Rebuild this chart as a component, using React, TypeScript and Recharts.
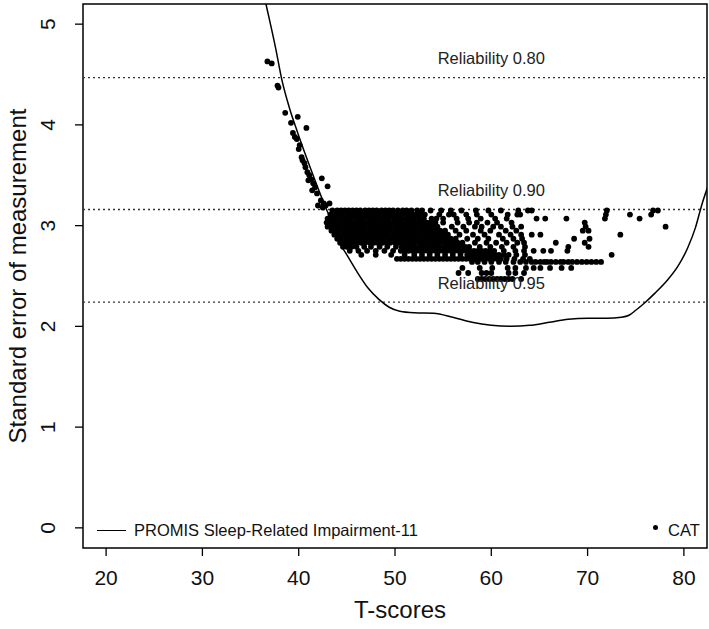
import React from "react";
import {
  ComposedChart,
  Line,
  Scatter,
  XAxis,
  YAxis,
  ReferenceLine,
  ReferenceArea,
  ReferenceDot,
} from "recharts";

// SEM curve of the fixed-length short form
const curveX = [35.9, 36.6, 37.65, 38.2, 39.0, 39.9, 41.3, 42.8, 43.6, 44.2, 45.0, 46.0, 47.2, 48.3, 49.4, 50.5, 52, 54, 56, 58, 60, 62, 64, 66, 68, 70, 72, 73.5, 74.3, 75.0, 76.0, 77.0, 78.3, 79.4, 80.4, 81.2, 81.9, 82.6];
const curveY = [5.5, 5.2, 4.74, 4.47, 4.18, 3.92, 3.55, 3.18, 3.0, 2.84, 2.71, 2.55, 2.38, 2.27, 2.19, 2.15, 2.135, 2.13, 2.09, 2.04, 2.01, 2.0, 2.01, 2.04, 2.07, 2.08, 2.08, 2.09, 2.11, 2.16, 2.24, 2.33, 2.46, 2.6, 2.78, 2.98, 3.22, 3.42];

// CAT simulees, tail along the curve
const catTailX = [36.75, 37.2, 37.8, 37.9, 38.6, 39.9, 39.2, 40.8, 39.4, 39.6, 39.8, 40.1, 40.0, 40.3, 40.4, 40.7, 40.6, 40.9, 41.1, 41.0, 41.3, 41.5, 41.7, 41.4, 42.4, 43.0, 41.9, 42.3, 42.6, 43.2, 42.0, 42.5, 42.8];
const catTailY = [4.63, 4.61, 4.39, 4.37, 4.12, 4.08, 4.02, 3.97, 3.92, 3.88, 3.86, 3.8, 3.76, 3.68, 3.65, 3.58, 3.62, 3.53, 3.5, 3.45, 3.46, 3.42, 3.38, 3.35, 3.47, 3.39, 3.32, 3.25, 3.22, 3.22, 3.2, 3.18, 3.2];

// CAT rows (stopping rule levels)
const cat315 = [43.5, 44.0, 44.4, 44.8, 45.2, 45.6, 46.0, 46.4, 46.9, 47.3, 47.7, 48.1, 48.6, 49.0, 49.4, 49.8, 50.3, 50.8, 51.2, 51.7, 52.3, 52.8, 53.7, 54.8, 55.8, 56.9, 58.4, 59.7, 61.0, 62.8, 63.8, 64.2, 72.0, 76.8, 77.3];
const cat311 = [43.3, 43.7, 44.1, 44.5, 45.0, 45.4, 45.8, 46.2, 46.7, 47.1, 47.5, 48.0, 48.4, 48.8, 49.3, 49.7, 50.2, 50.6, 51.1, 51.5, 51.9, 52.3, 52.6, 53.1, 54.6, 55.6, 56.1, 57.4, 58.5, 60.0, 61.7, 62.7, 63.0, 71.9, 74.4, 76.6];
const cat307 = [43.0, 43.4, 43.8, 44.3, 44.7, 45.1, 45.5, 46.0, 46.4, 46.8, 47.3, 47.7, 48.1, 48.6, 49.0, 49.4, 49.9, 50.3, 50.7, 51.2, 51.6, 52.0, 52.5, 53.0, 53.8, 54.3, 55.0, 56.4, 57.6, 58.9, 60.4, 61.6, 64.7, 65.6, 67.8, 71.8, 75.4];
const cat303 = [42.9, 43.3, 43.7, 44.1, 44.6, 45.0, 45.4, 45.9, 46.3, 46.7, 47.2, 47.6, 48.0, 48.5, 48.9, 49.3, 49.8, 50.2, 50.6, 51.1, 51.5, 51.9, 52.4, 52.8, 53.3, 53.7, 54.2, 55.0, 56.5, 57.7, 58.5, 59.6, 60.6, 62.1, 69.7];
const cat299 = [43.0, 43.5, 43.9, 44.3, 44.8, 45.2, 45.6, 46.1, 46.5, 46.9, 47.4, 47.8, 48.2, 48.7, 49.1, 49.5, 50.0, 50.4, 50.8, 51.3, 51.7, 52.1, 52.6, 53.0, 53.5, 53.9, 54.4, 55.9, 57.1, 58.3, 59.0, 60.2, 61.0, 62.2, 63.1, 69.8, 78.1];
const cat295 = [43.4, 43.8, 44.2, 44.7, 45.1, 45.5, 46.0, 46.4, 46.8, 47.3, 47.7, 48.1, 48.6, 49.0, 49.4, 49.9, 50.3, 50.7, 51.2, 51.6, 52.0, 52.5, 52.9, 53.3, 53.8, 54.2, 54.7, 55.2, 56.3, 57.4, 58.9, 59.9, 61.5, 62.6, 69.5, 70.1];
const cat291 = [43.7, 44.1, 44.6, 45.0, 45.4, 45.9, 46.3, 46.7, 47.2, 47.6, 48.0, 48.5, 48.9, 49.3, 49.8, 50.2, 50.6, 51.1, 51.5, 51.9, 52.4, 52.8, 53.2, 53.7, 54.1, 54.6, 55.0, 55.5, 56.7, 58.1, 59.3, 60.8, 62.0, 63.1, 64.2, 65.1, 73.4];
const cat287 = [44.0, 44.4, 44.9, 45.3, 45.7, 46.2, 46.6, 47.0, 47.5, 47.9, 48.3, 48.8, 49.2, 49.6, 50.1, 50.5, 50.9, 51.4, 51.8, 52.2, 52.7, 53.1, 53.5, 54.0, 54.4, 54.9, 55.3, 55.8, 56.3, 57.5, 58.6, 59.7, 61.2, 62.3, 63.2, 68.6, 70.2];
const cat283 = [44.3, 44.8, 45.2, 45.6, 46.1, 46.5, 46.9, 47.4, 47.8, 48.2, 48.7, 49.1, 49.5, 50.0, 50.4, 50.8, 51.3, 51.7, 52.1, 52.6, 53.0, 53.4, 53.9, 54.3, 54.7, 55.2, 55.6, 56.1, 56.5, 57.0, 58.3, 59.5, 60.5, 61.6, 62.7, 63.4, 66.7, 69.7];
const cat279 = [44.6, 45.0, 45.5, 46.0, 46.8, 47.5, 48.4, 49.2, 50.1, 50.7, 51.2, 51.6, 52.0, 52.5, 52.9, 53.3, 53.8, 54.2, 54.6, 55.1, 55.5, 55.9, 56.4, 56.8, 57.3, 57.7, 58.8, 59.9, 61.1, 62.3, 63.5, 68.0, 70.1];
const cat275 = [45.3, 46.2, 47.1, 48.0, 48.9, 49.8, 50.6, 51.0, 51.4, 51.8, 52.2, 52.6, 53.0, 53.4, 53.8, 54.2, 54.6, 55.0, 55.4, 55.8, 56.2, 56.6, 57.0, 57.4, 57.8, 58.2, 58.6, 59.0, 59.4, 59.8, 60.3, 61.3, 62.5, 63.4, 64.4, 65.4, 66.2, 67.9];
const cat271 = [46.5, 48.0, 49.6, 51.0, 52.0, 52.8, 53.6, 54.4, 55.2, 56.0, 56.8, 57.5, 57.9, 58.3, 58.7, 59.1, 59.6, 60.0, 60.4, 60.8, 61.3, 61.8, 62.6, 63.5, 72.5];
const cat267 = [50.2, 50.6, 51.0, 51.4, 51.8, 52.2, 52.6, 53.0, 53.4, 53.8, 54.2, 54.6, 55.0, 55.4, 55.8, 56.2, 56.6, 57.0, 57.4, 57.8, 58.2, 58.6, 59.0, 59.4, 59.8, 60.2, 60.6, 61.0, 61.6, 62.4, 63.3, 64.0];
const cat264 = [58.0, 58.6, 59.3, 60.0, 60.8, 61.5, 62.3, 63.0, 63.6, 64.2, 64.6, 65.1, 65.5, 65.8, 66.2, 66.7, 67.2, 67.5, 68.0, 68.4, 68.9, 69.4, 69.9, 70.4, 70.9, 71.4];
const cat258 = [57.0, 58.8, 60.1, 61.7, 62.5, 63.6, 64.4, 65.1, 66.1, 67.3, 68.3];
const cat253 = [56.6, 57.6, 59.0, 59.5, 60.0, 61.8, 62.5, 63.4];
const cat247 = [58.6, 59.0, 59.4, 59.8, 60.2, 60.6, 61.0, 61.4, 61.8, 62.2, 63.1];

const catRows: [number, number[]][] = [
  [3.15, cat315], [3.11, cat311], [3.07, cat307], [3.03, cat303], [2.99, cat299],
  [2.95, cat295], [2.91, cat291], [2.87, cat287], [2.83, cat283], [2.79, cat279],
  [2.75, cat275], [2.71, cat271], [2.67, cat267], [2.64, cat264], [2.58, cat258],
  [2.53, cat253], [2.47, cat247],
];

const xTicks = [20, 30, 40, 50, 60, 70, 80];
const yTicks = [0, 1, 2, 3, 4, 5];

const reliabilityLevels = [4.47, 3.16, 2.24];
const reliabilityLabels = ["Reliability 0.80", "Reliability 0.90", "Reliability 0.95"];

const FONT = "'Liberation Sans', Arial, Helvetica, sans-serif";

const curve = curveX.map((x, i) => ({ x, y: curveY[i] }));
const cat = [
  ...catTailX.map((x, i) => ({ x, y: catTailY[i] })),
  ...catRows.flatMap(([y, xs]) => xs.map((x) => ({ x, y }))),
];

function XTick(props: any) {
  return (
    <text x={props.x} y={585} textAnchor="middle" fontSize={21} fontFamily={FONT} fill="#111">
      {props.payload.value}
    </text>
  );
}

function YTick(props: any) {
  const x = 55;
  return (
    <text
      x={x}
      y={props.y}
      transform={`rotate(-90 ${x} ${props.y})`}
      textAnchor="middle"
      fontSize={21}
      fontFamily={FONT}
      fill="#111"
    >
      {props.payload.value}
    </text>
  );
}

function CatDot(props: any) {
  return <circle cx={props.cx} cy={props.cy} r={2.9} fill="#000" />;
}

export default function App() {
  return (
    <div style={{ position: "absolute", left: 0, top: 0, width: 709, height: 629, background: "#fff", fontFamily: FONT }}>
      <ComposedChart width={709} height={629} margin={{ top: 4, right: 2, bottom: 0, left: 0 }}>
        <XAxis
          dataKey="x"
          type="number"
          domain={[17.6, 82.4]}
          ticks={xTicks}
          interval={0}
          allowDataOverflow
          height={81}
          axisLine={false}
          tickLine={{ stroke: "#000", strokeWidth: 1.3 }}
          tickSize={8}
          tick={XTick}
        />
        <YAxis
          dataKey="y"
          type="number"
          domain={[-0.2, 5.2]}
          ticks={yTicks}
          interval={0}
          allowDataOverflow
          width={83}
          axisLine={false}
          tickLine={{ stroke: "#000", strokeWidth: 1.3 }}
          tickSize={8}
          tick={YTick}
        />
        {reliabilityLevels.map((v) => (
          <ReferenceLine key={v} y={v} stroke="#333" strokeWidth={1.3} strokeDasharray="2 3" />
        ))}
        <Scatter data={cat} dataKey="y" fill="#000" shape={CatDot} isAnimationActive={false} />
        <Line
          data={curve}
          dataKey="y"
          type="monotone"
          stroke="#000"
          strokeWidth={1.5}
          dot={false}
          activeDot={false}
          isAnimationActive={false}
        />
        {reliabilityLevels.map((v, i) => (
          <ReferenceDot
            key={"l" + v}
            x={60}
            y={v + 0.19}
            r={0}
            shape={(p: any) => (
              <text x={p.cx} y={p.cy + 6} textAnchor="middle" fontSize={16.5} fontFamily={FONT} fill="#222">
                {reliabilityLabels[i]}
              </text>
            )}
          />
        ))}
        <ReferenceArea x1={17.6} x2={82.4} y1={-0.2} y2={5.2} fill="none" stroke="#000" strokeWidth={1.5} />
      </ComposedChart>

      {/* legends */}
      <div style={{ position: "absolute", left: 97, top: 530, width: 29, height: 0, borderTop: "1.5px solid #000" }} />
      <div style={{ position: "absolute", left: 134, top: 520, fontSize: 16.5, lineHeight: "20px", color: "#111", whiteSpace: "nowrap" }}>
        PROMIS Sleep-Related Impairment-11
      </div>
      <div style={{ position: "absolute", left: 653, top: 525, width: 5, height: 5, borderRadius: "50%", background: "#000" }} />
      <div style={{ position: "absolute", left: 668, top: 520, fontSize: 16.5, lineHeight: "20px", color: "#111", whiteSpace: "nowrap" }}>
        CAT
      </div>

      {/* axis titles */}
      <div style={{ position: "absolute", left: 400, top: 610, transform: "translate(-50%, -50%)", fontSize: 24, color: "#111", whiteSpace: "nowrap" }}>
        T-scores
      </div>
      <div style={{ position: "absolute", left: 18, top: 276, transform: "translate(-50%, -50%) rotate(-90deg)", fontSize: 24, color: "#111", whiteSpace: "nowrap" }}>
        Standard error of measurement
      </div>
    </div>
  );
}
